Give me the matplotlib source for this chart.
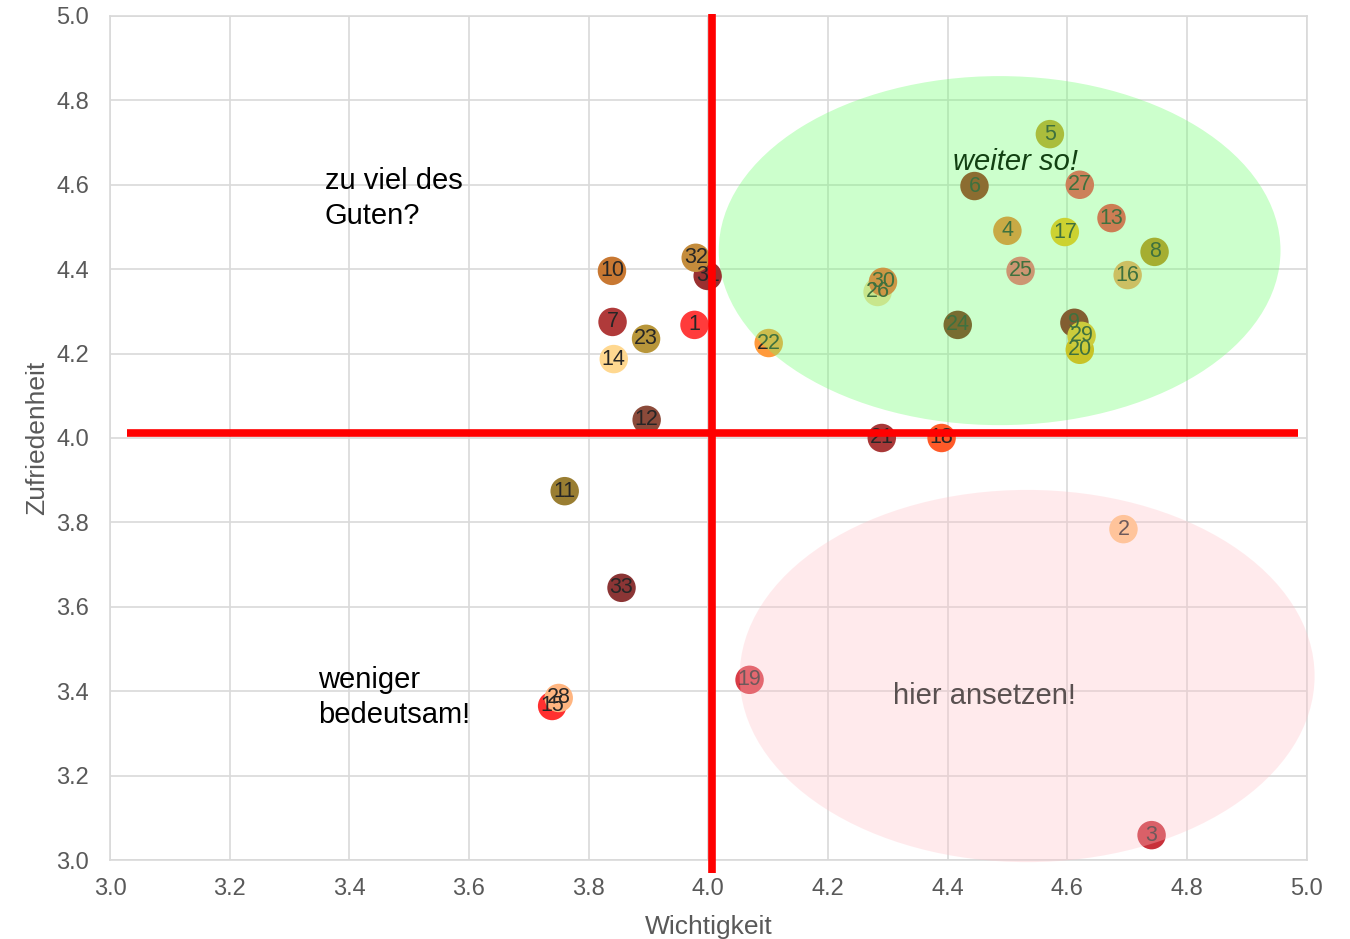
import matplotlib.pyplot as plt
from matplotlib.patches import Ellipse
import numpy as np

plt.rcParams['font.family'] = ['Liberation Sans', 'DejaVu Sans']

# Wichtigkeit (x), Zufriedenheit (y) per item
ids = list(range(1, 34))
wichtigkeit = [3.977, 4.694, 4.741, 4.500, 4.571, 4.445, 3.840, 4.746, 4.612, 3.839,
               3.760, 3.897, 4.674, 3.842, 3.739, 4.701, 4.596, 4.390, 4.069, 4.621,
               4.290, 4.101, 3.896, 4.417, 4.522, 4.283, 4.621, 3.750, 4.624, 4.292,
               3.999, 3.979, 3.855]
zufriedenheit = [4.268, 3.784, 3.059, 4.491, 4.720, 4.597, 4.275, 4.441, 4.273, 4.396,
                 3.874, 4.043, 4.521, 4.187, 3.365, 4.386, 4.488, 4.000, 3.427, 4.209,
                 4.000, 4.225, 4.235, 4.268, 4.396, 4.346, 4.600, 3.384, 4.242, 4.370,
                 4.384, 4.427, 3.645]
farben = ['#FF3B3B', '#FFC685', '#C8303A', '#F97D31', '#CB9B22', '#9D2012', '#B03A3A',
          '#C38412', '#8E0912', '#C87832', '#9A7E32', '#8B4A3A', '#FF3848', '#FFD890',
          '#FF3030', '#FF9E5F', '#FFBA12', '#FF5A28', '#D83C46', '#F9A303', '#A83838',
          '#FF9A3C', '#B8963A', '#7E2012', '#FF5E76', '#F9D99D', '#FF3F50', '#FFB580',
          '#FFB222', '#FF5E31', '#9A3030', '#C48C3C', '#8B3535']

fig = plt.figure(figsize=(13.5, 9.39), dpi=100)
ax = fig.add_axes([0.0815, 0.0841, 0.8863, 0.8989])

ax.set_xlim(3.0, 5.0)
ax.set_ylim(3.0, 5.0)
ax.set_xticks(np.arange(3.0, 5.01, 0.2))
ax.set_yticks(np.arange(3.0, 5.01, 0.2))
ax.xaxis.set_major_formatter(plt.FormatStrFormatter('%.1f'))
ax.yaxis.set_major_formatter(plt.FormatStrFormatter('%.1f'))
ax.grid(True, color='#D9D9D9', linewidth=1.2)
ax.set_axisbelow(True)
for s in ax.spines.values():
    s.set_color('#D9D9D9')
    s.set_linewidth(1.2)
ax.tick_params(axis='x', length=0, labelsize=17, colors='#595959', pad=13)
ax.tick_params(axis='y', length=0, labelsize=17, colors='#595959', pad=15)
ax.set_xlabel('Wichtigkeit', fontsize=19, color='#595959', labelpad=11)
ax.set_ylabel('Zufriedenheit', fontsize=19, color='#595959', labelpad=5)

ax.scatter(wichtigkeit, zufriedenheit, s=420, c=farben, zorder=2, linewidths=0)
for i, x, y in zip(ids, wichtigkeit, zufriedenheit):
    ax.text(x, y, str(i), ha='center', va='center', fontsize=15.5, color='#262626', zorder=3)

# Ellipsen als halbtransparente Flaechen ueber den Punkten
ax.add_patch(Ellipse((4.487, 4.444), 0.939, 0.827, facecolor='#6DFF6D', alpha=0.35,
                     edgecolor='none', zorder=4, clip_on=False))
ax.add_patch(Ellipse((4.533, 3.436), 0.961, 0.882, facecolor='#FFC2C8', alpha=0.33,
                     edgecolor='none', zorder=4, clip_on=False))

# Quadranten-Linien
ax.plot([3.028, 4.985], [4.012, 4.012], color='#FF0000', linewidth=5.5, zorder=5,
        clip_on=False, solid_capstyle='butt')
ax.plot([4.006, 4.006], [2.969, 5.005], color='#FF0000', linewidth=5.5, zorder=5,
        clip_on=False, solid_capstyle='butt')

ax.text(3.359, 4.590, 'zu viel des', fontsize=21, color='black', va='baseline', zorder=6)
ax.text(3.359, 4.507, 'Guten?', fontsize=21, color='black', va='baseline', zorder=6)
ax.text(3.348, 3.408, 'weniger', fontsize=21, color='black', va='baseline', zorder=6)
ax.text(3.348, 3.325, 'bedeutsam!', fontsize=21, color='black', va='baseline', zorder=6)
ax.text(4.409, 4.635, 'weiter so!', fontsize=21, color='#124012', style='italic',
        va='baseline', zorder=6)
ax.text(4.308, 3.370, 'hier ansetzen!', fontsize=21, color='#595050',
        va='baseline', zorder=6)

fig.savefig('out.png', dpi=100)
